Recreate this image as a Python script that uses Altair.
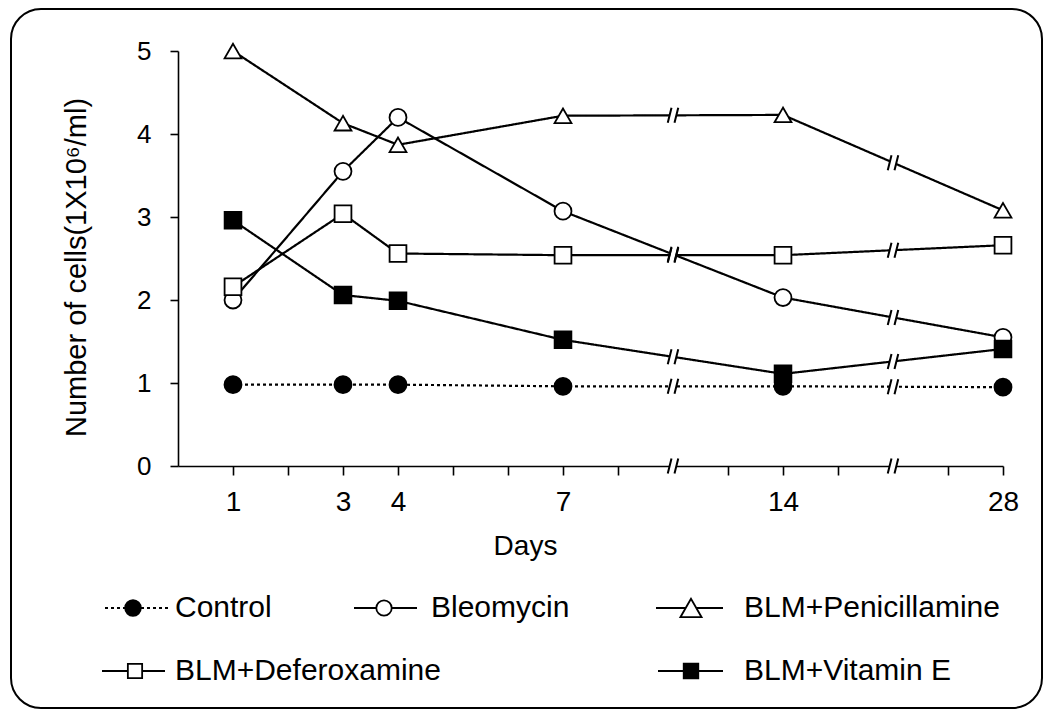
import altair as alt
import pandas as pd

FONT = "Liberation Sans"

# ---------------- data ----------------
series = ["Control", "Bleomycin", "BLM+Penicillamine", "BLM+Deferoxamine", "BLM+Vitamin E"]
days = [1, 3, 4, 7, 14, 28]
axis_pos = [1, 3, 4, 7, 11, 15]        # position of each day on the broken axis
break_pos = [9, 13]                     # axis breaks (between 7-14 and 14-28)
tick_pos = [1, 2, 3, 4, 5, 6, 7, 8, 10, 11, 12, 14, 15]
y_ticks = [0, 1, 2, 3, 4, 5]

control = [0.98, 0.98, 0.98, 0.96, 0.96, 0.95]
bleomycin = [2.00, 3.55, 4.20, 3.07, 2.03, 1.55]
penicillamine = [5.00, 4.13, 3.87, 4.22, 4.23, 3.08]
deferoxamine = [2.16, 3.04, 2.56, 2.54, 2.54, 2.66]
vitamin_e = [2.96, 2.06, 1.99, 1.52, 1.11, 1.41]

shapes = ["circle", "circle", "triangle-up", "square", "square"]
fills = ["black", "white", "white", "white", "black"]
sizes = [290, 280, 529, 240, 250]
dashes = [[3, 3], [1, 0], [1, 0], [1, 0], [1, 0]]

all_vals = [control, bleomycin, penicillamine, deferoxamine, vitamin_e]

rows = []
for name, vals in zip(series, all_vals):
    for d, p, v in zip(days, axis_pos, vals):
        rows.append({"series": name, "day": d, "pos": p, "value": v})
df = pd.DataFrame(rows)

brk_rows = []
for name, vals in zip(series, all_vals):
    brk_rows.append({"series": name, "pos": break_pos[0], "value": (vals[3] + vals[4]) / 2})
    brk_rows.append({"series": name, "pos": break_pos[1], "value": (vals[4] + vals[5]) / 2})
for p in break_pos:
    brk_rows.append({"series": "axis", "pos": p, "value": 0})
brk = pd.DataFrame(brk_rows)

# label expression for broken axis
label_expr = "''"
for d, p in zip(days, axis_pos):
    label_expr = f"datum.value == {p} ? '{d}' : ({label_expr})"

X = alt.X(
    "pos:Q",
    scale=alt.Scale(domain=[0, 15], nice=False, zero=False),
    axis=alt.Axis(
        values=tick_pos, labelExpr=label_expr, title="Days",
        tickSize=9, labelPadding=13, labelFontSize=28,
        titleFontSize=28, titleX=347, titleY=88, titleBaseline="alphabetic",
        labelFlush=False, labelOverlap=False,
    ),
)
Y = alt.Y(
    "value:Q",
    scale=alt.Scale(domain=[0, 5], nice=False, zero=True),
    axis=alt.Axis(
        values=y_ticks, title="Number of cells(1X10\u2076/ml)",
        tickSize=8, labelPadding=19, labelFontSize=26,
        titleFontSize=29, titleX=-93, titleY=216, titleAngle=-90,
        titleBaseline="alphabetic", titleAlign="center", labelFlush=False,
    ),
)

one = pd.DataFrame({"k": [0]})

frame = alt.Chart(one).mark_rect(
    cornerRadius=30, fill="white", fillOpacity=0, stroke="black", strokeWidth=2
).encode(x=alt.value(-167), x2=alt.value(864), y=alt.value(-42), y2=alt.value(657))

lines = alt.Chart(df).mark_line(color="black", strokeWidth=2.2).encode(
    x=X, y=Y, detail="series:N", order="pos:Q",
    strokeDash=alt.StrokeDash("series:N", scale=alt.Scale(domain=series, range=dashes), legend=None),
)

MASK = "M-0.7,1L-0.2,-1L0.7,-1L0.2,1Z"
SLASH = "M-0.7,1L-0.2,-1M0.2,1L0.7,-1"

mask = alt.Chart(brk).mark_point(
    shape=MASK, filled=True, fill="white", strokeWidth=0, size=225, opacity=1
).encode(x=X, y=Y)
slashes = alt.Chart(brk).mark_point(
    shape=SLASH, filled=False, stroke="black", strokeWidth=2, size=225, opacity=1
).encode(x=X, y=Y)

points = alt.Chart(df).mark_point(filled=True, stroke="black", strokeWidth=1.8, opacity=1).encode(
    x=X, y=Y,
    shape=alt.Shape("series:N", scale=alt.Scale(domain=series, range=shapes), legend=None),
    fill=alt.Fill("series:N", scale=alt.Scale(domain=series, range=fills), legend=None),
    size=alt.Size("series:O", scale=alt.Scale(domain=series, range=sizes), legend=None),
)

# ---------------- custom legend (layout in pixels relative to plot origin) ----------------
legend_layout = [
    # x0, x1, marker x, text x, y
    (-73, -9, -45, -3, 557),
    (176, 239, 206, 253, 557),
    (478, 545, 513, 566, 557),
    (-76, -13, -43, -3, 620),
    (480, 545, 513, 566, 620),
]
legend_layers = []
for i, name in enumerate(series):
    x0, x1, xm, xt, yy = legend_layout[i]
    legend_layers.append(
        alt.Chart(one).mark_rule(color="black", strokeWidth=2.2, strokeDash=dashes[i]).encode(
            x=alt.value(x0), x2=alt.value(x1), y=alt.value(yy))
    )
    legend_layers.append(
        alt.Chart(one).mark_point(
            shape=shapes[i], filled=True, fill=fills[i], stroke="black",
            strokeWidth=1.8, size=int(sizes[i] * 0.85), opacity=1,
        ).encode(x=alt.value(xm), y=alt.value(yy))
    )
    legend_layers.append(
        alt.Chart(one).mark_text(
            text=name, align="left", baseline="middle", fontSize=30, font=FONT, color="black"
        ).encode(x=alt.value(xt), y=alt.value(yy))
    )

chart = alt.layer(frame, lines, mask, slashes, points, *legend_layers).properties(
    width=825, height=415,
    padding={"left": 170, "top": 43, "right": 40, "bottom": 243},
    autosize=alt.AutoSizeParams(type="none"),
).configure_view(strokeWidth=0).configure_axis(
    grid=False, domainColor="black", tickColor="black", labelColor="black",
    titleColor="black", labelFont=FONT, titleFont=FONT, titleFontWeight="normal",
    domainWidth=1.6, tickWidth=1.6, zindex=0,
)

chart.save("out.html", embed_options={"renderer": "svg", "actions": False})
